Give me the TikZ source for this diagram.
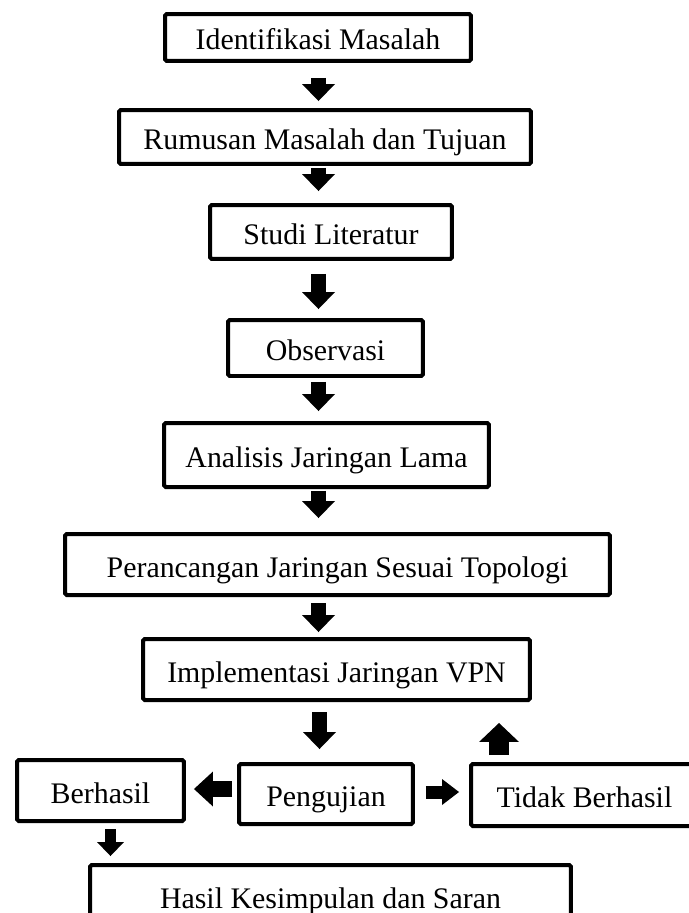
\documentclass[tikz,border=0pt]{standalone}
\usepackage{fontspec}
\setmainfont{Liberation Serif}
\usetikzlibrary{arrows.meta}

\begin{document}
\begin{tikzpicture}[
    x=0.02cm, y=-0.02cm,
    stage/.style={
        rectangle, draw, fill=white,
        line width=0.08cm, rounded corners=1pt,
        inner sep=0pt, align=center,
        text height=0.5cm, text depth=0cm,
        font=\fontsize{17}{20}\selectfont
    },
    blockarrow/.style n args={3}{
        line width=#1,
        -{Triangle[length=#2, width=#3, line width=0pt]}
    },
    flow/.style={blockarrow={0.3cm}{0.34cm}{0.66cm}}
]
  \clip (0,0) rectangle (689,913);

  % Main column of stages
  \node[stage, minimum width=6.12cm, minimum height=0.94cm] (ident) at (318,37.5) {Identifikasi Masalah};
  \node[stage, minimum width=8.24cm, minimum height=1.08cm] (rumusan) at (325,137) {Rumusan Masalah dan Tujuan};
  \node[stage, minimum width=4.84cm, minimum height=1.08cm] (studi) at (331,232) {Studi Literatur};
  \node[stage, minimum width=3.9cm, minimum height=1.12cm] (observasi) at (325.5,348) {Observasi};
  \node[stage, minimum width=6.5cm, minimum height=1.28cm] (analisis) at (326.5,455) {Analisis Jaringan Lama};
  \node[stage, minimum width=10.9cm, minimum height=1.22cm] (rancang) at (337.5,564.5) {Perancangan Jaringan Sesuai Topologi};
  \node[stage, minimum width=7.74cm, minimum height=1.22cm] (implementasi) at (336.5,669.5) {Implementasi Jaringan VPN};

  % Testing row
  \node[stage, minimum width=3.48cm, minimum height=1.2cm] (uji) at (326,794) {Pengujian};
  \node[stage, minimum width=3.34cm, minimum height=1.22cm] (berhasil) at (100.5,790.5) {Berhasil};
  \node[stage, minimum width=4.54cm, minimum height=1.24cm] (gagal) at (584.5,795) {Tidak Berhasil};

  \node[stage, minimum width=9.62cm, minimum height=1.22cm] (hasil) at (330.5,895.5) {Hasil Kesimpulan dan Saran};

  % Spine of the down arrows
  \coordinate (spine) at (318.5,0);

  \draw[flow, shorten <=0.3cm, shorten >=0.14cm] (ident.south -| spine) -- (rumusan.north -| spine);
  \draw[flow, shorten <=0.04cm, shorten >=0.24cm] (rumusan.south -| spine) -- (studi.north -| spine);
  \draw[flow, shorten <=0.26cm, shorten >=0.18cm] (studi.south -| spine) -- (observasi.north -| spine);
  \draw[flow, shorten <=0.08cm, shorten >=0.2cm] (observasi.south -| spine) -- (analisis.north -| spine);
  \draw[flow, shorten <=0.04cm, shorten >=0.28cm] (analisis.south -| spine) -- (rancang.north -| spine);
  \draw[flow, shorten <=0.12cm, shorten >=0.1cm] (rancang.south -| spine) -- (implementasi.north -| spine);
  \draw[flow, shorten <=0.2cm, shorten >=0.26cm] ([xshift=0.02cm]implementasi.south -| spine) -- ([xshift=0.02cm]uji.north -| spine);

  % Result of the test
  \draw[blockarrow={0.32cm}{0.38cm}{0.7cm}, shorten <=0.1cm, shorten >=0.16cm]
      ([yshift=0.1cm]uji.west) -- ([yshift=0.1cm]uji.west -| berhasil.east);
  \draw[blockarrow={0.26cm}{0.34cm}{0.52cm}, shorten <=0.22cm, shorten >=0.2cm]
      ([yshift=0.04cm]uji.east) -- ([yshift=0.04cm]uji.east -| gagal.west);
  \draw[blockarrow={0.4cm}{0.38cm}{0.8cm}, shorten <=0.14cm, shorten >=0.42cm]
      ([xshift=-1.71cm]gagal.north) -- ([xshift=-1.71cm]gagal.north |- implementasi.south);
  \draw[blockarrow={0.22cm}{0.28cm}{0.54cm}, shorten <=0.12cm, shorten >=0.14cm]
      ([xshift=0.2cm]berhasil.south) -- ([xshift=0.2cm]berhasil.south |- hasil.north);

\end{tikzpicture}
\end{document}
